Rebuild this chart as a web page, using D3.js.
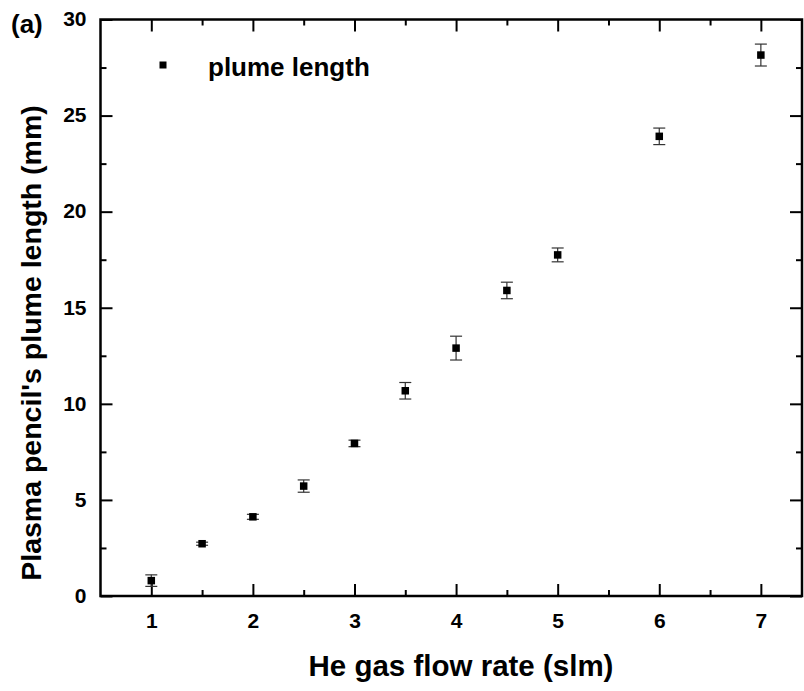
<!DOCTYPE html>
<html>
<head>
<meta charset="utf-8">
<script src="https://cdn.jsdelivr.net/npm/d3@7"></script>
<style>
html,body{margin:0;padding:0;background:#fff;}
svg{display:block;font-family:"Liberation Sans",Arial,sans-serif;font-weight:bold;}
</style>
</head>
<body>
<svg id="chart" width="804" height="691"></svg>
<script>
const flowRate = [1, 1.5, 2, 2.5, 3, 3.5, 4, 4.5, 5, 6, 7];
const plumeLength = [0.8, 2.72, 4.12, 5.72, 7.94, 10.68, 12.9, 15.9, 17.75, 23.92, 28.15];
const plumeError = [0.3, 0.08, 0.13, 0.32, 0.17, 0.43, 0.62, 0.43, 0.36, 0.43, 0.57];
const xTicks = [1, 2, 3, 4, 5, 6, 7];
const xMinorTicks = [1.5, 2.5, 3.5, 4.5, 5.5, 6.5];
const yTicks = [0, 5, 10, 15, 20, 25, 30];
const yMinorTicks = [2.5, 7.5, 12.5, 17.5, 22.5, 27.5];

const svg = d3.select("#chart");
const L = 100.5, R = 802, T = 19.5, B = 596;
const x = d3.scaleLinear().domain([0.5, 7.4]).range([L, 801.5]);
const y = d3.scaleLinear().domain([0, 30]).range([B, T]);

function axisStyle(g){
  g.select(".domain").remove();
  g.selectAll(".tick line").attr("stroke","#000").attr("stroke-width",2);
  g.selectAll(".tick text").attr("fill","#000").style("font-size","21px").style("font-weight","bold");
}
// bottom
const gb = svg.append("g").attr("transform",`translate(0,${B})`)
  .call(d3.axisBottom(x).tickValues(xTicks).tickFormat(d3.format("d")).tickSize(-12).tickPadding(17));
axisStyle(gb);
svg.append("g").attr("transform",`translate(0,${B})`)
  .call(d3.axisBottom(x).tickValues(xMinorTicks).tickFormat("").tickSize(-6)).call(axisStyle);
// top
svg.append("g").attr("transform",`translate(0,${T})`)
  .call(d3.axisTop(x).tickValues(xTicks).tickFormat("").tickSize(-12)).call(axisStyle);
svg.append("g").attr("transform",`translate(0,${T})`)
  .call(d3.axisTop(x).tickValues(xMinorTicks).tickFormat("").tickSize(-6)).call(axisStyle);
// left
const gl = svg.append("g").attr("transform",`translate(${L},0)`)
  .call(d3.axisLeft(y).tickValues(yTicks).tickFormat(d3.format("d")).tickSize(-12).tickPadding(14));
axisStyle(gl);
gl.selectAll(".tick text").attr("dy","0.3em");
svg.append("g").attr("transform",`translate(${L},0)`)
  .call(d3.axisLeft(y).tickValues(yMinorTicks).tickFormat("").tickSize(-6)).call(axisStyle);
// right
svg.append("g").attr("transform",`translate(${R},0)`)
  .call(d3.axisRight(y).tickValues(yTicks).tickFormat("").tickSize(-12)).call(axisStyle);
svg.append("g").attr("transform",`translate(${R},0)`)
  .call(d3.axisRight(y).tickValues(yMinorTicks).tickFormat("").tickSize(-6)).call(axisStyle);

// frame
svg.append("rect").attr("x",L).attr("y",T).attr("width",R-L).attr("height",B-T)
  .attr("fill","none").attr("stroke","#000").attr("stroke-width",2.5);

// data
const data = flowRate.map((f,i)=>({x:f,y:plumeLength[i],e:plumeError[i]}));
const eb = svg.append("g").attr("stroke","#333").attr("stroke-width",1.2);
data.forEach(d=>{
  const cx = x(d.x);
  eb.append("line").attr("x1",cx).attr("x2",cx).attr("y1",y(d.y+d.e)).attr("y2",y(d.y-d.e));
  eb.append("line").attr("x1",cx-6).attr("x2",cx+6).attr("y1",y(d.y+d.e)).attr("y2",y(d.y+d.e));
  eb.append("line").attr("x1",cx-6).attr("x2",cx+6).attr("y1",y(d.y-d.e)).attr("y2",y(d.y-d.e));
});
svg.append("g").selectAll("rect").data(data).join("rect")
  .attr("x",d=>x(d.x)-3.75).attr("y",d=>y(d.y)-3.75).attr("width",7.5).attr("height",7.5).attr("fill","#000");

// legend
svg.append("rect").attr("x",159.5).attr("y",61.5).attr("width",7).attr("height",7).attr("fill","#000");
svg.append("text").attr("x",208).attr("y",76).style("font-size","26px").text("plume length");

// titles
svg.append("text").attr("x",461).attr("y",676).attr("text-anchor","middle").style("font-size","29.5px").text("He gas flow rate (slm)");
svg.append("text").attr("transform","translate(41,343) rotate(-90)").attr("text-anchor","middle").style("font-size","28.5px").text("Plasma pencil's plume length (mm)");
svg.append("text").attr("x",11).attr("y",33).style("font-size","26px").text("(a)");
</script>
</body>
</html>
